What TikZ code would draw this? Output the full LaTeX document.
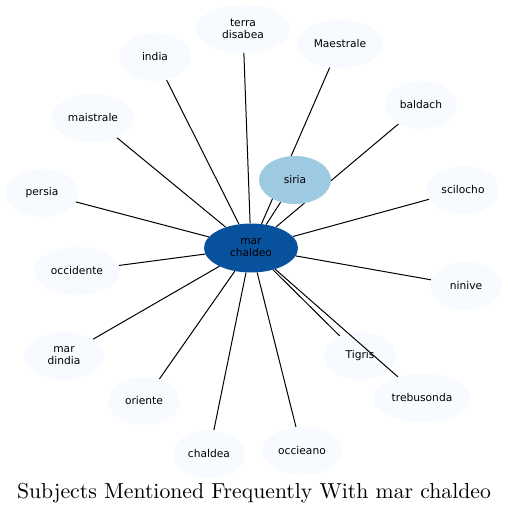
\documentclass[tikz,border=0pt]{standalone}
\usepackage{fontspec}
\newfontfamily\dejavu{DejaVu Sans}
\newfontfamily\titlefont{lmroman10-regular.otf}
\usepackage{xcolor}
\usetikzlibrary{shapes.geometric}
\definecolor{leaffill}{HTML}{F7FBFF}
\definecolor{nearfill}{HTML}{9ECAE1}
\definecolor{hubfill}{HTML}{08519C}
\pgfdeclarelayer{background}
\pgfsetlayers{background,main}

\begin{document}
\begin{tikzpicture}[x=1pt,y=-1pt,
  leaf/.style={ellipse,fill=leaffill,draw=none,align=center,inner xsep=4.2pt,
    minimum width=72pt,minimum height=48pt,font=\dejavu\fontsize{10.67}{12}\selectfont},
  near/.style={leaf,fill=nearfill},
  hub/.style={leaf,fill=hubfill,minimum width=94pt,minimum height=49pt},
  link/.style={line width=1pt,black}
]
\useasboundingbox (0,0) rectangle (508,514);
\node[hub] (hub) at (251,248) {mar\\chaldeo};
\node[near] (siria) at (295,180) {siria};
\node[leaf,minimum width=94pt] (terra) at (243,29) {terra\\disabea};
\node[leaf] (maestrale) at (340,44) {Maestrale};
\node[leaf] (india) at (155,57) {india};
\node[leaf] (baldach) at (421,105) {baldach};
\node[leaf] (maistrale) at (93,118) {maistrale};
\node[leaf] (persia) at (42,193) {persia};
\node[leaf] (scilocho) at (463,190) {scilocho};
\node[leaf] (occidente) at (77,271) {occidente};
\node[leaf] (ninive) at (466,286) {ninive};
\node[leaf,minimum width=80pt] (dindia) at (64,356) {mar\\dindia};
\node[leaf] (tigris) at (360,356) {Tigris};
\node[leaf] (trebusonda) at (422,398) {trebusonda};
\node[leaf] (oriente) at (144,401) {oriente};
\node[leaf] (chaldea) at (209,454) {chaldea};
\node[leaf] (occieano) at (302,451) {occieano};
\node[font=\titlefont\fontsize{21.7}{25}\selectfont] (title) at (254,493) {Subjects Mentioned Frequently With mar chaldeo};
\begin{pgfonlayer}{background}
\foreach \other in {siria,terra,maestrale,india,baldach,maistrale,persia,scilocho,
  occidente,ninive,dindia,tigris,oriente,chaldea,occieano}
  \draw[link] (hub) -- (\other);
\end{pgfonlayer}
% this one runs over the Tigris node
\draw[link] (hub) -- (trebusonda);
\end{tikzpicture}
\end{document}
